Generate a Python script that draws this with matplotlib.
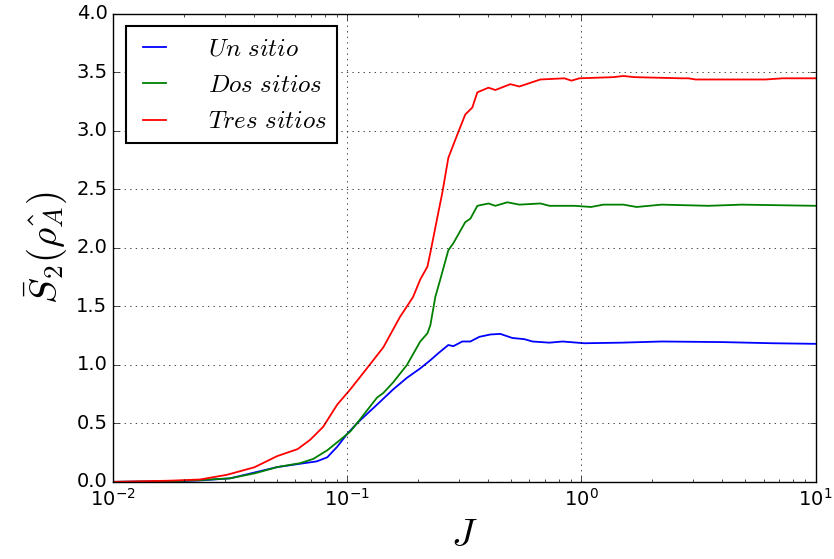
import matplotlib
matplotlib.use("Agg")
import matplotlib.pyplot as plt

plt.style.use('classic')
plt.rcParams['mathtext.fontset'] = 'cm'

# Renyi-2 entropy vs coupling J for blocks of one, two and three sites
J_un = [0.01, 0.0175, 0.0235, 0.0316, 0.0502, 0.063, 0.0741, 0.0822, 0.0906, 0.100, 0.110,
        0.134, 0.157, 0.180, 0.205, 0.2265, 0.245, 0.2702, 0.2838, 0.310, 0.3356, 0.3667,
        0.409, 0.4505, 0.507, 0.5704, 0.618, 0.730, 0.830, 1.03, 1.48, 2.20, 3.96, 6.55, 10.0]
S_un = [0.0, 0.005, 0.012, 0.03, 0.126, 0.155, 0.175, 0.21, 0.30, 0.41, 0.50,
        0.66, 0.79, 0.89, 0.97, 1.04, 1.10, 1.17, 1.16, 1.20, 1.20, 1.24,
        1.26, 1.265, 1.23, 1.22, 1.20, 1.19, 1.20, 1.185, 1.19, 1.20, 1.195, 1.185, 1.18]

J_dos = [0.01, 0.0175, 0.0235, 0.0316, 0.0405, 0.0502, 0.063, 0.0716, 0.0822, 0.0961, 0.103,
         0.110, 0.134, 0.1426, 0.157, 0.180, 0.205, 0.220, 0.2265, 0.2377, 0.2496, 0.2702,
         0.2838, 0.319, 0.3356, 0.3594, 0.401, 0.429, 0.483, 0.543, 0.668, 0.730, 0.933, 1.10,
         1.24, 1.51, 1.72, 2.20, 3.49, 4.83, 10.0]
S_dos = [0.0, 0.005, 0.015, 0.03, 0.074, 0.126, 0.16, 0.196, 0.27, 0.38, 0.43,
         0.50, 0.72, 0.76, 0.85, 1.0, 1.2, 1.27, 1.34, 1.58, 1.73, 1.98,
         2.04, 2.22, 2.25, 2.36, 2.38, 2.36, 2.39, 2.37, 2.38, 2.36, 2.36, 2.35,
         2.37, 2.37, 2.35, 2.37, 2.36, 2.37, 2.36]

J_tres = [0.01, 0.0175, 0.0235, 0.0306, 0.0402, 0.0502, 0.0614, 0.0695, 0.0789, 0.0906, 0.103,
          0.117, 0.1426, 0.168, 0.191, 0.205, 0.220, 0.2265, 0.2425, 0.2546, 0.2702, 0.2953,
          0.319, 0.342, 0.3594, 0.401, 0.429, 0.4975, 0.543, 0.668, 0.846, 0.906, 0.980,
          1.37, 1.51, 1.68, 2.67, 2.86, 3.07, 3.85, 6.11, 7.22, 10.0]
S_tres = [0.0, 0.01, 0.02, 0.06, 0.125, 0.22, 0.28, 0.36, 0.47, 0.66, 0.79,
          0.93, 1.15, 1.41, 1.58, 1.73, 1.84, 1.96, 2.26, 2.47, 2.77, 2.97,
          3.14, 3.20, 3.33, 3.37, 3.35, 3.40, 3.38, 3.44, 3.45, 3.43, 3.45,
          3.46, 3.47, 3.46, 3.45, 3.45, 3.44, 3.44, 3.44, 3.45, 3.45]

fig = plt.figure(figsize=(8.34, 5.59), dpi=100, facecolor='white')
ax = fig.add_axes([0.1355, 0.138, 0.8425, 0.837])

ax.plot(J_un, S_un, 'b-', lw=1.3, label=r'$Un\ sitio$')
ax.plot(J_dos, S_dos, 'g-', lw=1.3, label=r'$Dos\ sitios$')
ax.plot(J_tres, S_tres, 'r-', lw=1.3, label=r'$Tres\ sitios$')

ax.set_xscale('log')
ax.set_xlim(1e-2, 1e1)
ax.set_ylim(0, 4)
ax.grid(True)
ax.tick_params(labelsize=14)
ax.set_xlabel(r'$J$', fontsize=28)
ax.set_ylabel(r'$\bar{S}_2(\hat{\rho_A})$', fontsize=28)
leg = ax.legend(loc='upper left', fontsize=18, handlelength=1.5, handletextpad=1.4)
leg.get_frame().set_linewidth(1.5)

fig.savefig('out.png', dpi=100, facecolor='white')
